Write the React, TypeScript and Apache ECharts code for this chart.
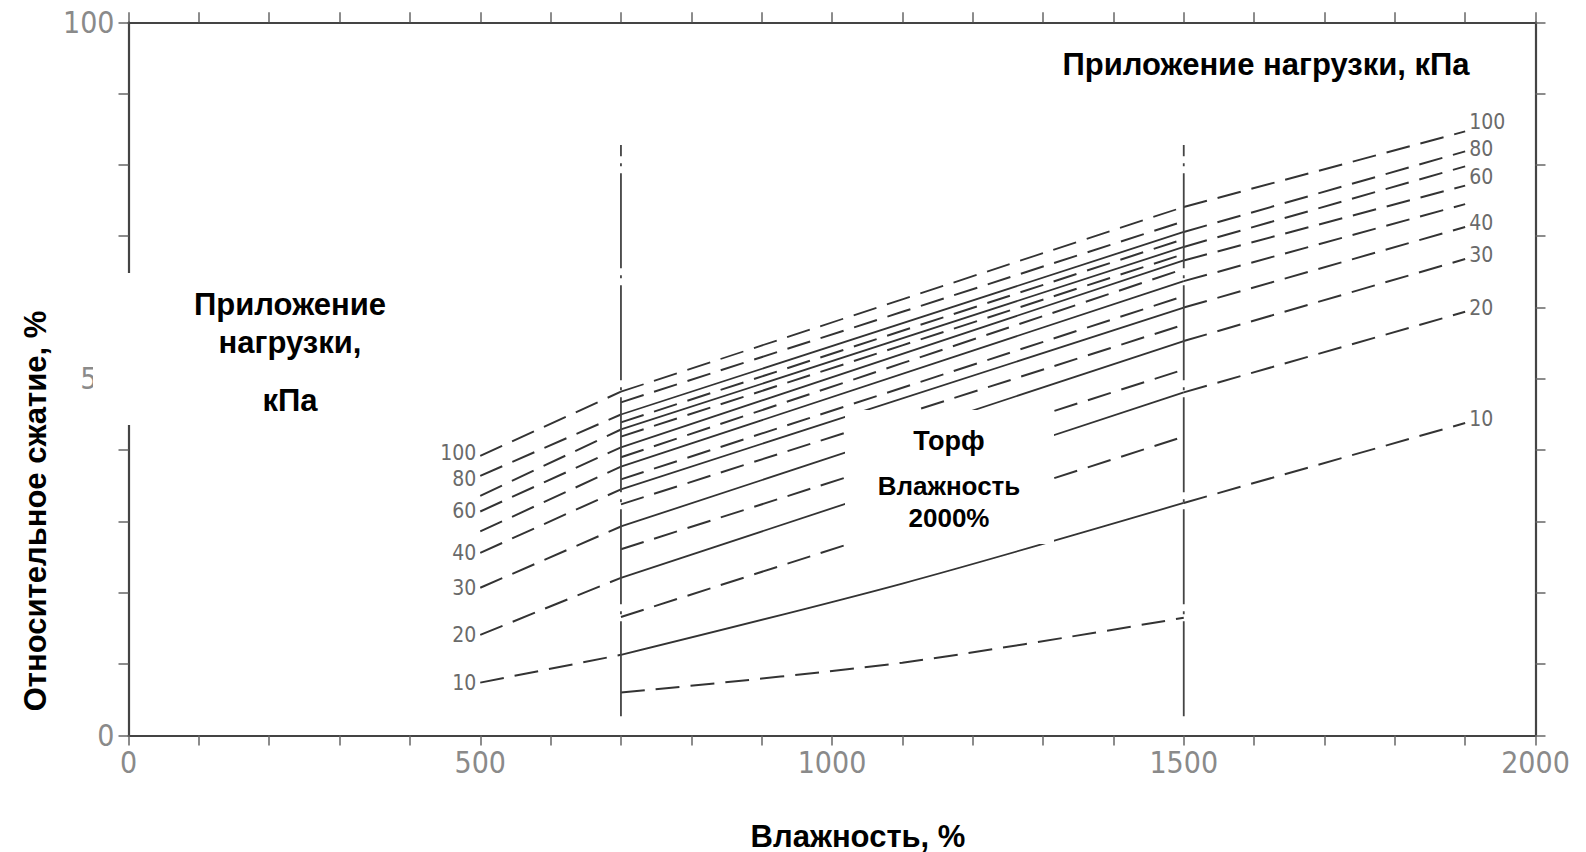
import React, { useEffect, useRef } from "react";
import * as echarts from "echarts";

// Loads, kPa (one curve per load in each family)
const loads = [10, 20, 30, 40, 50, 60, 70, 80, 100];
const labeledLoads = [10, 20, 30, 40, 60, 80, 100];

// Axis tick labels
const xTickLabels = [0, 500, 1000, 1500, 2000];
const yTickLabels = [0, 50, 100];

// Vertical reference lines (moisture, %) and their vertical extent (%)
const verticalLineX = [700, 1500];
const verticalLineY = [2.7, 82.8];

// Family A: left dashed extension (500 -> 700)
const leftStartX = 500;
const aY500 = [7.4, 14.1, 20.7, 25.6, 28.6, 31.4, 33.6, 36.4, 39.2];
// Family A: measured range (700 -> 1500)
const aY700 = [11.3, 22.1, 29.3, 34.5, 37.7, 40.4, 42.9, 45.0, 48.2];
const aY1500 = [32.6, 48.1, 55.3, 60.0, 63.7, 66.6, 68.5, 70.6, 74.1];
const aMid10 = [1100, 21.3];
// Family A: right dashed extension (1500 -> 1900)
const rightEndX = 1900;
const aY1900 = [43.8, 59.4, 66.8, 71.3, 74.5, 77.1, 79.8, 81.9, 84.7];

// Family B: dashed curves in measured range (700 -> 1500)
const bY700 = [6.0, 16.6, 26.1, 32.4, 35.9, 39.0, 41.9, 43.9, 46.7];
const bY1500 = [16.5, 41.9, 51.3, 57.6, 61.6, 65.4, 67.5, 69.6, 72.1];
const bMid10 = [1100, 10.2];

const LINE = "#333333";
const DASH = [24, 11];
const TICK_FONT = "'DejaVu Sans Condensed', 'DejaVu Sans', sans-serif";
const BOLD_FONT = "'Liberation Sans', Arial, sans-serif";

const leftLabelShift: Record<number, number> = { 100: -3, 80: 3 };
const rightLabelShift: Record<number, number> = { 100: -9, 80: -2, 60: -9 };

export default function App() {
  const ref = useRef<HTMLDivElement>(null);

  useEffect(() => {
    if (!ref.current) return;
    const chart = echarts.init(ref.current, null, { renderer: "svg" });

    const series: any[] = [];
    const hiddenSymbol = {
      showSymbol: true,
      symbol: "circle",
      symbolSize: 0.01,
      itemStyle: { color: "rgba(0,0,0,0)" },
    };
    const curveLabel = (load: number, position: string, offset: number[]) => ({
      show: labeledLoads.includes(load),
      position,
      distance: 4,
      offset,
      formatter: String(load),
      color: "#6a6a6a",
      fontFamily: TICK_FONT,
      fontSize: 21,
    });

    loads.forEach((load, i) => {
      // left dashed extension
      series.push({
        type: "line",
        silent: true,
        ...hiddenSymbol,
        lineStyle: { color: LINE, width: 2, type: DASH },
        data: [
          {
            value: [leftStartX, aY500[i]],
            label: curveLabel(load, "left", [0, leftLabelShift[load] ?? 0]),
          },
          { value: [verticalLineX[0], aY700[i]] },
        ],
      });
      // measured curve
      const midA: number[][] = [[verticalLineX[0], aY700[i]]];
      if (i === 0) midA.push(aMid10);
      midA.push([verticalLineX[1], aY1500[i]]);
      series.push({
        type: "line",
        silent: true,
        showSymbol: false,
        symbol: "none",
        smooth: 0.3,
        lineStyle: { color: LINE, width: 1.8, type: load === 100 ? DASH : "solid" },
        data: midA,
      });
      // right dashed extension
      series.push({
        type: "line",
        silent: true,
        ...hiddenSymbol,
        lineStyle: { color: LINE, width: 2, type: DASH },
        data: [
          { value: [verticalLineX[1], aY1500[i]] },
          {
            value: [rightEndX, aY1900[i]],
            label: curveLabel(load, "right", [0, rightLabelShift[load] ?? -4]),
          },
        ],
      });
      // family B dashed curve
      const midB: number[][] = [[verticalLineX[0], bY700[i]]];
      if (i === 0) midB.push(bMid10);
      midB.push([verticalLineX[1], bY1500[i]]);
      series.push({
        type: "line",
        silent: true,
        showSymbol: false,
        symbol: "none",
        smooth: 0.3,
        lineStyle: { color: LINE, width: 2, type: DASH },
        data: midB,
      });
    });

    verticalLineX.forEach((vx) => {
      series.push({
        type: "line",
        silent: true,
        showSymbol: false,
        symbol: "none",
        lineStyle: { color: "#444", width: 1.8, type: [95, 7, 3, 7] },
        data: [
          [vx, verticalLineY[0]],
          [vx, verticalLineY[1]],
        ],
      });
    });

    const axisCommon = {
      type: "value",
      axisLine: { show: true, onZero: false, lineStyle: { color: "#444", width: 2.2 } },
      axisTick: { show: true, inside: false, length: 10, lineStyle: { color: "#666", width: 1.5 } },
      splitLine: { show: false },
    };

    const option: any = {
      animation: false,
      backgroundColor: "#ffffff",
      grid: { left: 128.5, right: 50.5, top: 22.3, bottom: 116.6, containLabel: false },
      xAxis: [
        {
          ...axisCommon,
          position: "bottom",
          min: 0,
          max: 2000,
          interval: 100,
          axisLabel: {
            show: true,
            margin: 12,
            color: "#8a8a8a",
            fontFamily: TICK_FONT,
            fontSize: 30,
            showMinLabel: true,
            showMaxLabel: true,
            formatter: (v: number) => (xTickLabels.includes(v) ? String(v) : ""),
          },
        },
        {
          ...axisCommon,
          position: "top",
          min: 0,
          max: 2000,
          interval: 100,
          axisLabel: { show: false },
        },
      ],
      yAxis: [
        {
          ...axisCommon,
          position: "left",
          min: 0,
          max: 100,
          interval: 10,
          axisLabel: {
            show: true,
            margin: 14,
            color: "#8a8a8a",
            fontFamily: TICK_FONT,
            fontSize: 30,
            showMinLabel: true,
            showMaxLabel: true,
            formatter: (v: number) => (yTickLabels.includes(v) ? String(v) : ""),
          },
        },
        {
          ...axisCommon,
          position: "right",
          min: 0,
          max: 100,
          interval: 10,
          axisLabel: { show: false },
        },
      ],
      series,
      graphic: [
        // top-right legend title box
        {
          type: "rect",
          z: 100,
          shape: { x: 1020, y: 36, width: 485, height: 52 },
          style: { fill: "#ffffff" },
        },
        {
          type: "text",
          z: 101,
          x: 1266,
          y: 64,
          style: {
            text: "Приложение нагрузки, кПа",
            fill: "#000",
            font: `bold 31px ${BOLD_FONT}`,
            align: "center",
            verticalAlign: "middle",
          },
        },
        // left legend title box
        {
          type: "rect",
          z: 100,
          shape: { x: 93, y: 273, width: 393, height: 152 },
          style: { fill: "#ffffff" },
        },
        {
          type: "text",
          z: 101,
          x: 290,
          y: 304,
          style: { text: "Приложение", fill: "#000", font: `bold 31px ${BOLD_FONT}`, align: "center", verticalAlign: "middle" },
        },
        {
          type: "text",
          z: 101,
          x: 290,
          y: 342,
          style: { text: "нагрузки,", fill: "#000", font: `bold 31px ${BOLD_FONT}`, align: "center", verticalAlign: "middle" },
        },
        {
          type: "text",
          z: 101,
          x: 290,
          y: 400,
          style: { text: "кПа", fill: "#000", font: `bold 31px ${BOLD_FONT}`, align: "center", verticalAlign: "middle" },
        },
        // centre box
        {
          type: "rect",
          z: 100,
          shape: { x: 845, y: 410, width: 209, height: 134 },
          style: { fill: "#ffffff" },
        },
        {
          type: "text",
          z: 101,
          x: 949,
          y: 441,
          style: { text: "Торф", fill: "#000", font: `bold 27px ${BOLD_FONT}`, align: "center", verticalAlign: "middle" },
        },
        {
          type: "text",
          z: 101,
          x: 949,
          y: 486,
          style: { text: "Влажность", fill: "#000", font: `bold 26px ${BOLD_FONT}`, align: "center", verticalAlign: "middle" },
        },
        {
          type: "text",
          z: 101,
          x: 949,
          y: 518,
          style: { text: "2000%", fill: "#000", font: `bold 26px ${BOLD_FONT}`, align: "center", verticalAlign: "middle" },
        },
        // axis titles
        {
          type: "text",
          z: 101,
          x: 35,
          y: 511,
          rotation: Math.PI / 2,
          style: {
            text: "Относительное сжатие, %",
            fill: "#000",
            font: `bold 31px ${BOLD_FONT}`,
            align: "center",
            verticalAlign: "middle",
          },
        },
        {
          type: "text",
          z: 101,
          x: 858,
          y: 836,
          style: {
            text: "Влажность, %",
            fill: "#000",
            font: `bold 31px ${BOLD_FONT}`,
            align: "center",
            verticalAlign: "middle",
          },
        },
      ],
    };

    chart.setOption(option);
    return () => chart.dispose();
  }, []);

  return (
    <div
      ref={ref}
      style={{ position: "fixed", left: 0, top: 0, width: 1586, height: 852, background: "#fff" }}
    />
  );
}
